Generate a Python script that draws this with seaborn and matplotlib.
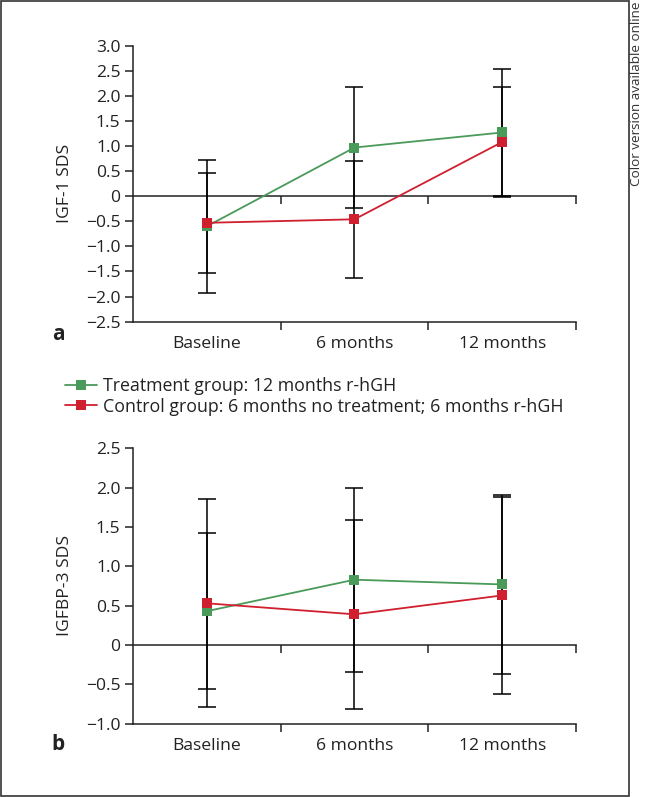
import numpy as np
import pandas as pd
import seaborn as sns
import matplotlib.pyplot as plt
from matplotlib.patches import Rectangle
from matplotlib.ticker import FuncFormatter

"""Data read off the figure (mean and SD)"""
timepoints = ['Baseline', '6 months', '12 months']
groups = ['Treatment group: 12 months r-hGH',
          'Control group: 6 months no treatment; 6 months r-hGH']

igf1_treat = [-0.60, 0.97, 1.27]
igf1_treat_sd = [1.33, 1.20, 1.27]
igf1_ctrl = [-0.53, -0.46, 1.08]
igf1_ctrl_sd = [1.00, 1.17, 1.10]

igfbp3_treat = [0.43, 0.83, 0.77]
igfbp3_treat_sd = [0.99, 1.17, 1.14]
igfbp3_ctrl = [0.53, 0.39, 0.63]
igfbp3_ctrl_sd = [1.32, 1.20, 1.25]

colors = ['#4a9a5a', '#d01f2e']
ink = '#222222'
fs = 12.6

sns.set_theme(style='ticks')
plt.rcParams['font.family'] = ['Open Sans', 'DejaVu Sans']
plt.rcParams['axes.unicode_minus'] = True

fig = plt.figure(figsize=(6.45, 7.97), dpi=100)
ax_a = fig.add_axes([0.2062, 0.5964, 0.6868, 0.3463])
ax_b = fig.add_axes([0.2062, 0.0920, 0.6868, 0.3455])


def fmt(v, pos):
    if abs(v) < 1e-9:
        return '0'
    return f'{v:.1f}'.replace('-', '\u2212')


def draw_panel(ax, means, sds, ylim, ystep, ylabel):
    xs = np.arange(len(timepoints))
    """error bars first, under the markers"""
    for m, s in zip(means, sds):
        ax.errorbar(xs, m, yerr=s, fmt='none', ecolor='black',
                    elinewidth=1.1, capsize=6.5, capthick=1.1, zorder=2)
    for m, g, c in zip(means, groups, colors):
        df = pd.DataFrame({'time': timepoints, 'value': m})
        sns.lineplot(ax=ax, data=df, x='time', y='value', color=c,
                     marker='s', markersize=7.5, markeredgewidth=0,
                     linewidth=1.3, label=g, zorder=3, sort=False)
    leg = ax.get_legend()
    if leg is not None:
        leg.remove()

    ax.set_xlim(-0.5, len(timepoints) - 0.5)
    ax.set_ylim(*ylim)
    ax.set_yticks(np.arange(ylim[0], ylim[1] + 1e-9, ystep))
    ax.yaxis.set_major_formatter(FuncFormatter(fmt))
    ax.set_xticks(xs)
    ax.set_xticklabels(timepoints)
    ax.set_xticks(xs + 0.5, minor=True)
    ax.tick_params(axis='x', which='major', length=0, pad=10, labelsize=fs,
                   colors=ink)
    ax.tick_params(axis='x', which='minor', length=6, width=1.1,
                   direction='out', color=ink)
    ax.tick_params(axis='y', length=6, width=1.1, pad=3, labelsize=fs,
                   colors=ink)
    ax.set_xlabel('')
    ax.set_ylabel(ylabel, fontsize=fs, color=ink)
    ax.yaxis.set_label_coords(-0.135, 0.5)
    for side in ['top', 'right']:
        ax.spines[side].set_visible(False)
    for side in ['left', 'bottom']:
        ax.spines[side].set_linewidth(1.1)
        ax.spines[side].set_color(ink)

    """zero line with its own downward ticks"""
    loc = (0 - ylim[0]) / (ylim[1] - ylim[0])
    sec = ax.secondary_xaxis(loc)
    sec.set_xticks(xs + 0.5)
    sec.set_xticklabels([])
    sec.tick_params(length=6, width=1.1, direction='out', color=ink)
    sec.spines['bottom'].set_linewidth(1.1)
    sec.spines['bottom'].set_color(ink)


draw_panel(ax_a, [igf1_treat, igf1_ctrl], [igf1_treat_sd, igf1_ctrl_sd],
           (-2.5, 3.0), 0.5, 'IGF-1 SDS')
draw_panel(ax_b, [igfbp3_treat, igfbp3_ctrl], [igfbp3_treat_sd, igfbp3_ctrl_sd],
           (-1.0, 2.5), 0.5, 'IGFBP-3 SDS')

handles, labels = ax_a.get_legend_handles_labels()
fig.legend(handles, labels, loc='upper left', bbox_to_anchor=(0.1008, 0.5265),
           frameon=False, fontsize=12.8, borderpad=0, borderaxespad=0,
           handlelength=1.8, handletextpad=0.34, labelspacing=0.12,
           labelcolor=ink)

fig.text(58 / 645, 1 - 335 / 797, 'a', fontsize=15, fontweight='bold',
         ha='center', va='center', color=ink)
fig.text(58 / 645, 1 - 745 / 797, 'b', fontsize=15, fontweight='bold',
         ha='center', va='center', color=ink)
fig.text(636 / 645, 1 - 94 / 797, 'Color version available online',
         rotation=90, fontsize=9.7, ha='center', va='center', color='#333333')

fig.patches.append(Rectangle((1 / 645, 1 / 797), 628 / 645, 795 / 797,
                             transform=fig.transFigure, fill=False,
                             edgecolor='#333333', linewidth=1.2))

fig.savefig('out.png', dpi=100)
